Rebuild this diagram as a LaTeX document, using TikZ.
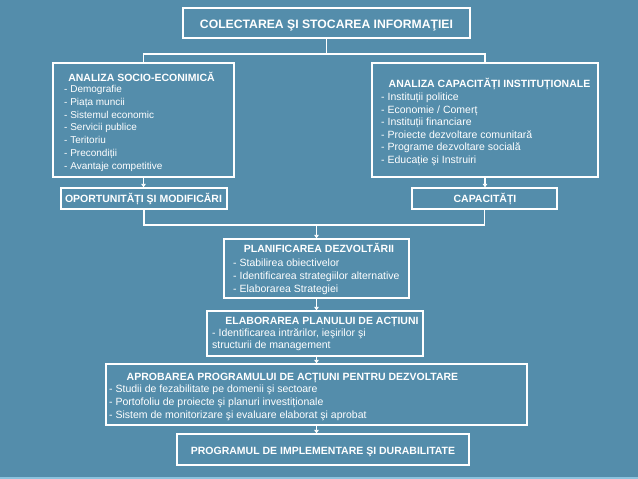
\documentclass[tikz,border=0pt]{standalone}
\usepackage{fontspec}
\setmainfont{Liberation Sans}
\usetikzlibrary{arrows.meta,fit}
\definecolor{bg}{RGB}{84,141,171}
\definecolor{strip}{RGB}{140,195,222}
\begin{document}
\begin{tikzpicture}[x=1pt,y=-1pt,
  box/.style={draw=white,line width=1.3pt,inner sep=0pt},
  conn/.style={draw=white,line width=1.1pt},
  arr/.style={conn,-{Triangle[width=4.5pt,length=3.5pt]}},
  ttop/.style={text=white,inner sep=0pt,anchor=base,font=\fontsize{12.2}{14}\selectfont\bfseries},
  ttl/.style={text=white,inner sep=0pt,anchor=base,font=\fontsize{10.5}{12}\selectfont\bfseries},
  bodyl/.style={text=white,inner sep=0pt,anchor=base west,font=\fontsize{10}{12}\selectfont},
  body/.style={text=white,inner sep=0pt,anchor=base west,font=\fontsize{10.5}{12}\selectfont}]
\fill[bg] (0,0) rectangle (638,479);
\useasboundingbox (0,0) rectangle (638,479);
\fill[strip] (0,477) rectangle (638,479);
% boxes
\node[box,fit={(183,8) (470,38)}] (top) {};
\node[box,fit={(53,63) (234,177)}] (left) {};
\node[box,fit={(372,63) (598,177)}] (right) {};
\node[box,fit={(61,188) (227,209)}] (oport) {};
\node[box,fit={(412,188) (557,209)}] (cap) {};
\node[box,fit={(224,239) (409,298)}] (planif) {};
\node[box,fit={(207,311) (423,356)}] (elab) {};
\node[box,fit={(106,364) (527,425)}] (aprob) {};
\node[box,fit={(177,434) (469,465)}] (prog) {};
% texts
\node[ttop] (ttop) at (326.5,28) {COLECTAREA ŞI STOCAREA INFORMAŢIEI};
\node[ttl] (tleft) at (141.5,81) {ANALIZA SOCIO-ECONIMICĂ};
\node[bodyl] (l1) at (64,92.7) {- Demografie};
\node[bodyl] (l2) at (64,105.45) {- Piața muncii};
\node[bodyl] (l3) at (64,118.2) {- Sistemul economic};
\node[bodyl] (l4) at (64,130.95) {- Servicii publice};
\node[bodyl] (l5) at (64,143.7) {- Teritoriu};
\node[bodyl] (l6) at (64,156.45) {- Precondiții};
\node[bodyl] (l7) at (64,169.2) {- Avantaje competitive};
\node[ttl] (tright) at (489.5,87.3) {ANALIZA CAPACITĂȚI INSTITUȚIONALE};
\node[body] (r1) at (381,100.5) {- Instituții politice};
\node[body] (r2) at (381,113) {- Economie / Comerț};
\node[body] (r3) at (381,125.5) {- Instituții financiare};
\node[body] (r4) at (381,138) {- Proiecte dezvoltare comunitară};
\node[body] (r5) at (381,150.5) {- Programe dezvoltare socială};
\node[body] (r6) at (381,163) {- Educație şi Instruiri};
\node[ttl] (toport) at (143.5,202.8) {OPORTUNITĂȚI ŞI MODIFICĂRI};
\node[ttl] (tcap) at (485,202.8) {CAPACITĂȚI};
\node[ttl] (tplanif) at (319,252.7) {PLANIFICAREA DEZVOLTĂRII};
\node[body] (p1) at (233,266.7) {- Stabilirea obiectivelor};
\node[body] (p2) at (233,279.7) {- Identificarea strategiilor alternative};
\node[body] (p3) at (233,292.7) {- Elaborarea Strategiei};
\node[ttl] (telab) at (322,324) {ELABORAREA PLANULUI DE ACȚIUNI};
\node[body] (e1) at (212,336) {- Identificarea intrărilor, ieşirilor şi};
\node[body] (e2) at (212,348.3) {structurii de management};
\node[ttl] (taprob) at (292.5,380) {APROBAREA PROGRAMULUI DE ACȚIUNI PENTRU DEZVOLTARE};
\node[body] (a1) at (109,392.7) {- Studii de fezabilitate pe domenii şi sectoare};
\node[body] (a2) at (109,405.5) {- Portofoliu de proiecte şi planuri investiționale};
\node[body] (a3) at (109,418.3) {- Sistem de monitorizare şi evaluare elaborat şi aprobat};
\node[ttl] (tprog) at (323,454) {PROGRAMUL DE IMPLEMENTARE ŞI DURABILITATE};
% connectors
\coordinate (split) at (326.5,54);
\coordinate (join) at (316.5,225);
\draw[conn] (top.south) -- (split);
\draw[conn] (left.north) |- (split) -| (right.north);
\draw[arr] (left.south) -- (left.south |- oport.north);
\draw[arr] (right.south) -- (right.south |- cap.north);
\draw[conn] (oport.south) |- (join) -| (cap.south);
\draw[arr] (join) -- (planif.north);
\draw[arr] (planif.south) -- (planif.south |- elab.north);
\draw[arr] (aprob.north |- elab.south) -- (aprob.north);
\draw[arr] (aprob.south) -- (aprob.south |- prog.north);
\end{tikzpicture}
\end{document}
